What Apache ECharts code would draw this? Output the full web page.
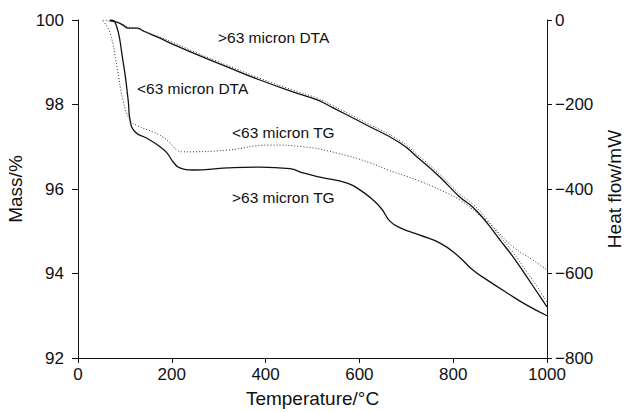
<!DOCTYPE html>
<html lang="en">
<head>
    <meta charset="UTF-8">
    <script src="https://cdn.jsdelivr.net/npm/echarts@6/dist/echarts.min.js"></script>
    <title>TG / DTA</title>
</head>
<body style="margin:0;background:#fff;">
<div id="main" style="width: 625px;height:412px;"></div>
<script type="text/javascript">

    // temperature (°C) and mass (%) for the TG curves
    var tgCoarseT = [68, 79, 95, 107, 111, 122, 147, 175, 190, 203, 217, 245, 318, 388, 452, 480, 516, 574, 601, 629, 648, 665, 687, 729, 772, 808, 842, 872, 915, 957, 1000];
    var tgCoarse  = [100, 99.95, 99.1, 98.1, 97.63, 97.35, 97.2, 97.0, 96.85, 96.64, 96.5, 96.45, 96.5, 96.52, 96.48, 96.38, 96.28, 96.14, 95.98, 95.74, 95.52, 95.24, 95.08, 94.91, 94.72, 94.44, 94.08, 93.85, 93.54, 93.25, 93.0];

    var tgFineT = [53, 68, 83, 96, 111, 126, 160, 181, 196, 211, 224, 318, 409, 480, 552, 623, 661, 723, 772, 814, 851, 885, 928, 970, 1000];
    var tgFine  = [99.98, 99.7, 98.9, 98.1, 97.63, 97.5, 97.35, 97.23, 97.09, 96.92, 96.88, 96.92, 97.04, 97.0, 96.85, 96.62, 96.45, 96.21, 95.98, 95.74, 95.43, 95.1, 94.63, 94.32, 94.08];

    // temperature (°C) and heat flow (mW) for the DTA curves
    var dtaCoarseT = [68, 83, 96, 107, 126, 139, 175, 196, 245, 318, 388, 458, 510, 544, 616, 687, 723, 772, 814, 842, 872, 900, 928, 957, 986, 1000];
    var dtaCoarse  = [-2, -5, -12, -19, -19, -26, -43, -54, -78, -111, -142, -170, -189, -208, -249, -291, -324, -372, -419, -443, -480, -521, -561, -608, -656, -679];

    var dtaFineT = [53, 70, 90, 107, 126, 150, 196, 245, 318, 388, 458, 510, 544, 616, 687, 723, 772, 814, 842, 872, 900, 928, 957, 986, 1000];
    var dtaFine  = [0, -3, -8, -16, -20, -30, -50, -74, -107, -138, -166, -185, -203, -244, -286, -318, -366, -412, -436, -472, -512, -551, -596, -643, -668];

    function pairs(xs, ys) {
        return xs.map(function (x, i) { return [x, ys[i]]; });
    }

    var font = 'Liberation Sans, Arial, sans-serif';
    var myChart = echarts.init(document.getElementById('main'), null, { renderer: 'svg' });

    var solid = { color: '#111', width: 1.3, type: 'solid' };
    var dotted = { color: '#333', width: 1, type: [1, 2] };

    var option = {
        animation: false,
        textStyle: { fontFamily: font },
        grid: { left: 78, right: 78, top: 20, bottom: 54, containLabel: false, outerBoundsMode: 'none' },
        xAxis: {
            type: 'value', min: 0, max: 1000, interval: 200,
            name: 'Temperature/°C', nameLocation: 'middle', nameGap: 31,
            nameTextStyle: { fontSize: 19, color: '#111', fontFamily: font },
            axisLine: { show: true, onZero: false, lineStyle: { color: '#111' } },
            axisTick: { show: true, length: 5, lineStyle: { color: '#111' } },
            axisLabel: { fontSize: 17, color: '#111', margin: 8, fontFamily: font,
                formatter: function (v) { return String(v); } },
            splitLine: { show: false }
        },
        yAxis: [{
            type: 'value', min: 92, max: 100, interval: 2, position: 'left',
            name: 'Mass/%', nameLocation: 'middle', nameGap: 47,
            nameTextStyle: { fontSize: 19, color: '#111', fontFamily: font },
            axisLine: { show: true, lineStyle: { color: '#111' } },
            axisTick: { show: true, length: 6, lineStyle: { color: '#111' } },
            axisLabel: { fontSize: 17, color: '#111', margin: 14, fontFamily: font },
            splitLine: { show: false }
        }, {
            type: 'value', min: -800, max: 0, interval: 200, position: 'right',
            name: 'Heat flow/mW', nameLocation: 'middle', nameGap: 58, nameRotate: 90,
            nameTextStyle: { fontSize: 19, color: '#111', fontFamily: font },
            axisLine: { show: true, lineStyle: { color: '#111' } },
            axisTick: { show: true, length: 5, lineStyle: { color: '#111' } },
            axisLabel: {
                fontSize: 17, color: '#111', margin: 8, fontFamily: font,
                formatter: function (v) { return v < 0 ? '\u2212' + Math.abs(v) : String(v); }
            },
            splitLine: { show: false }
        }],
        series: [
            { name: '>63 micron TG', type: 'line', yAxisIndex: 0, data: pairs(tgCoarseT, tgCoarse),
              smooth: true, showSymbol: false, lineStyle: solid },
            { name: '<63 micron TG', type: 'line', yAxisIndex: 0, data: pairs(tgFineT, tgFine),
              smooth: true, showSymbol: false, lineStyle: dotted },
            { name: '>63 micron DTA', type: 'line', yAxisIndex: 1, data: pairs(dtaCoarseT, dtaCoarse),
              smooth: true, showSymbol: false, lineStyle: solid },
            { name: '<63 micron DTA', type: 'line', yAxisIndex: 1, data: pairs(dtaFineT, dtaFine),
              smooth: true, showSymbol: false, lineStyle: dotted }
        ],
        graphic: [
            { type: 'text', left: 218, top: 29, style: { text: '>63 micron DTA', font: '15.5px ' + font, fill: '#111' } },
            { type: 'text', left: 137, top: 80, style: { text: '<63 micron DTA', font: '15.5px ' + font, fill: '#111' } },
            { type: 'text', left: 232, top: 124, style: { text: '<63 micron TG', font: '15.5px ' + font, fill: '#111' } },
            { type: 'text', left: 232, top: 189, style: { text: '>63 micron TG', font: '15.5px ' + font, fill: '#111' } }
        ]
    };

    myChart.setOption(option);

</script>
</body>
</html>
